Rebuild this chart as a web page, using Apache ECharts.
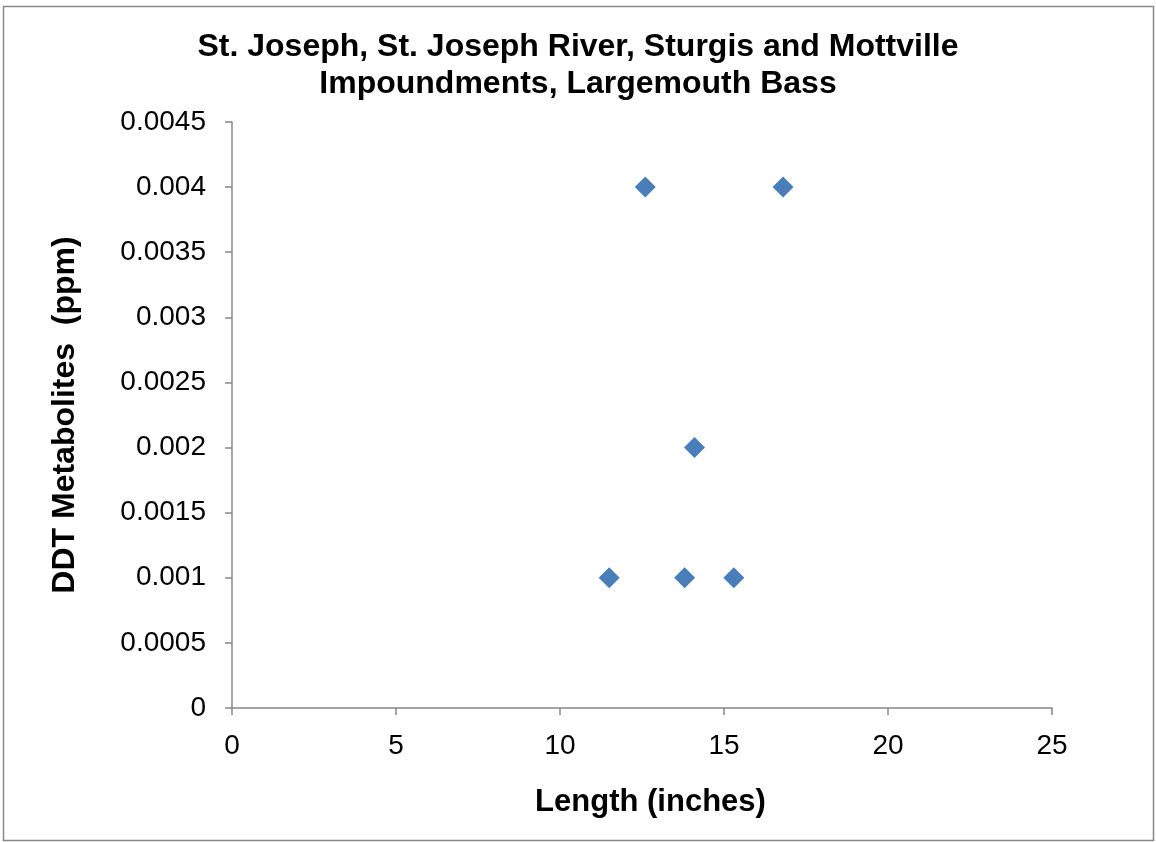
<!DOCTYPE html>
<html><head><meta charset="utf-8">
<script src="https://cdn.jsdelivr.net/npm/echarts@6/dist/echarts.min.js"></script>
<style>html,body{margin:0;padding:0;background:#fff}#c{width:1156px;height:842px}</style>
</head><body><div id="c"></div>
<script>
const lengths = [11.5, 12.6, 13.8, 14.1, 15.3, 16.8];
const ddt = [0.001, 0.004, 0.001, 0.002, 0.001, 0.004];
const titleText = 'St. Joseph, St. Joseph River, Sturgis and Mottville\nImpoundments, Largemouth Bass';
const xName = 'Length (inches)';
const yName = 'DDT Metabolites  (ppm)';

const chart = echarts.init(document.getElementById('c'), null, {renderer: 'canvas'});
const axisCol = '#868686';
const font = '"Liberation Sans", Arial, sans-serif';
chart.setOption({
  animation: false,
  backgroundColor: '#fff',
  graphic: [{type: 'rect', shape: {x: 3.5, y: 6.5, width: 1150, height: 834}, style: {fill: 'none', stroke: '#888', lineWidth: 1.5}, silent: true}],
  title: {
    text: titleText, left: 'center', top: 24,
    textStyle: {fontFamily: font, fontWeight: 'bold', fontSize: 32, color: '#000', lineHeight: 37}
  },
  grid: {left: 232, top: 122, right: 104, bottom: 134},
  xAxis: {
    type: 'value', min: 0, max: 25, interval: 5,
    name: xName, nameLocation: 'middle', nameGap: 79,
    nameTextStyle: {fontFamily: font, fontWeight: 'bold', fontSize: 31, color: '#000', padding: [0, 0, 0, 17]},
    axisLine: {lineStyle: {color: axisCol, width: 1.5}},
    axisTick: {show: true, length: 7, lineStyle: {color: axisCol, width: 1.5}},
    axisLabel: {fontFamily: font, fontSize: 28, color: '#000', margin: 24},
    splitLine: {show: false}
  },
  yAxis: {
    type: 'value', min: 0, max: 0.0045, interval: 0.0005,
    name: yName, nameLocation: 'middle', nameGap: 151,
    nameTextStyle: {fontFamily: font, fontWeight: 'bold', fontSize: 32, color: '#000'},
    axisLine: {show: true, lineStyle: {color: axisCol, width: 1.5}},
    axisTick: {show: true, length: 7, lineStyle: {color: axisCol, width: 1.5}},
    axisLabel: {fontFamily: font, fontSize: 28, color: '#000', margin: 26,
      formatter: v => String(parseFloat(v.toFixed(4)))},
    splitLine: {show: false}
  },
  series: [{
    type: 'scatter',
    symbol: 'diamond', symbolSize: [21, 21],
    itemStyle: {color: '#4a7ebb', opacity: 1, borderWidth: 0},
    data: lengths.map((x, i) => [x, ddt[i]])
  }]
});
</script></body></html>
